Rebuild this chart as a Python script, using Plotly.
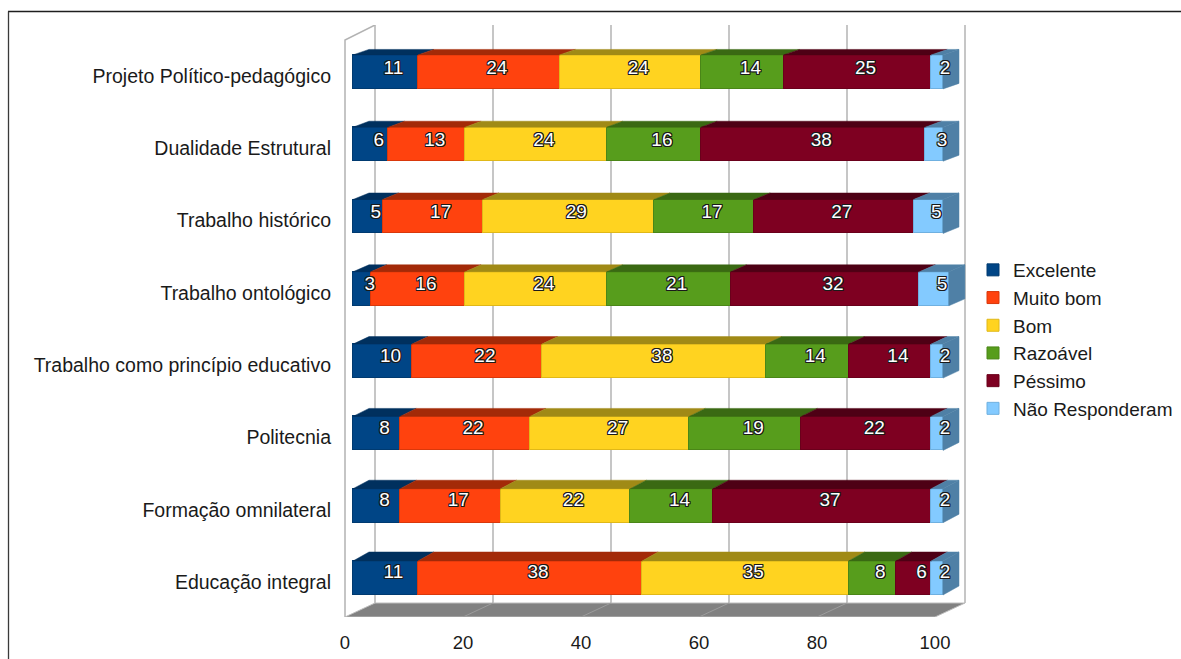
import plotly.graph_objects as go

# Survey results (%), rows listed bottom to top
categories = [
    "Educação integral",
    "Formação omnilateral",
    "Politecnia",
    "Trabalho como princípio educativo",
    "Trabalho ontológico",
    "Trabalho histórico",
    "Dualidade Estrutural",
    "Projeto Político-pedagógico",
]
series_names = ["Excelente", "Muito bom", "Bom", "Razoável", "Péssimo", "Não Responderam"]
excelente = [11, 8, 8, 10, 3, 5, 6, 11]
muito_bom = [38, 17, 22, 22, 16, 17, 13, 24]
bom = [35, 22, 27, 38, 24, 29, 24, 24]
razoavel = [8, 14, 19, 14, 21, 17, 16, 14]
pessimo = [6, 37, 22, 14, 32, 27, 38, 25]
nao_responderam = [2, 2, 2, 2, 5, 5, 3, 2]
x_ticks = [0, 20, 40, 60, 80, 100]

series = [excelente, muito_bom, bom, razoavel, pessimo, nao_responderam]
front_colors = ["#004586", "#ff420e", "#ffd320", "#579d1c", "#7e0021", "#83caff"]
edge_colors = ["#003a70", "#d9380b", "#e0b818", "#4a8617", "#6a001b", "#6fb0e0"]
top_colors = ["#00305e", "#a32a08", "#a08a16", "#3a6913", "#4e0015", "#4f80a6"]

# ---- page geometry (pixels) ----
W, H = 1181, 659
PLOT_L, PLOT_R, PLOT_T, PLOT_B = 340, 970, 25, 617
ZERO_PX = 353          # x pixel of value 0 on the bar front faces
PX_PER_UNIT = 5.9      # horizontal pixels per percentage point
ROW0_PX = 578          # y pixel of the bottom row centre
ROW_PX = 72.3          # vertical pixels per row
BAR_W = 0.47           # bar thickness in row units
DEPTH_DX = 16 / PX_PER_UNIT              # oblique depth, x offset
def depth_dy(i):                         # oblique depth, y offset (row units)
    return (9 - 3.5 * i / 7) / ROW_PX

WALL_DX = 22 / PX_PER_UNIT               # back wall sits behind the bars
FLOOR_FRONT_DX = -8 / PX_PER_UNIT        # floor front edge sits in front
FLOOR_BACK_Y = (ROW0_PX - 603) / ROW_PX
FLOOR_FRONT_Y = (ROW0_PX - 617) / ROW_PX
WALL_TOP_BACK_Y = (ROW0_PX - 25) / ROW_PX
WALL_TOP_FRONT_Y = (ROW0_PX - 40) / ROW_PX

x_range = [(PLOT_L - ZERO_PX) / PX_PER_UNIT, (PLOT_R - ZERO_PX) / PX_PER_UNIT]
y_range = [(ROW0_PX - PLOT_B) / ROW_PX, (ROW0_PX - PLOT_T) / ROW_PX]

FONT = "Liberation Sans, Arial, sans-serif"
TEXT_COLOR = "#1a1a1a"
rows = list(range(len(categories)))

fig = go.Figure()

# front faces
for name, vals, fc, ec in zip(series_names, series, front_colors, edge_colors):
    fig.add_trace(go.Bar(
        y=rows, x=vals, name=name, orientation="h", width=BAR_W,
        marker=dict(color=fc, line=dict(color=ec, width=1)),
        legendgroup=name, hoverinfo="skip",
    ))

# top faces of every segment and the end cap of each row
starts = [[0] * len(rows) for _ in series]
for i in rows:
    acc = 0
    for s, vals in enumerate(series):
        starts[s][i] = acc
        acc += vals[i]

for s, vals in enumerate(series):
    xs, ys = [], []
    for i in rows:
        x0 = starts[s][i]
        x1 = x0 + vals[i]
        yt = i + BAR_W / 2
        dy = depth_dy(i)
        xs += [x0, x1, x1 + DEPTH_DX, x0 + DEPTH_DX, x0, None]
        ys += [yt, yt, yt + dy, yt + dy, yt, None]
    fig.add_trace(go.Scatter(
        x=xs, y=ys, mode="lines", fill="toself", fillcolor=top_colors[s],
        line=dict(color=top_colors[s], width=0.5), showlegend=False, hoverinfo="skip",
    ))

last = len(series) - 1
xs, ys = [], []
for i in rows:
    xe = starts[last][i] + series[last][i]
    yt, yb = i + BAR_W / 2, i - BAR_W / 2
    dy = depth_dy(i)
    xs += [xe, xe + DEPTH_DX, xe + DEPTH_DX, xe, xe, None]
    ys += [yt, yt + dy, yb + dy, yb, yt, None]
fig.add_trace(go.Scatter(
    x=xs, y=ys, mode="lines", fill="toself", fillcolor=top_colors[last],
    line=dict(color=top_colors[last], width=0.5), showlegend=False, hoverinfo="skip",
))

# value labels, centred on each box, white with a dark outline
oc = "#1a1a1a"
outline = ", ".join(f"{a}px {b}px 0 {oc}" for a, b in
                    [(1, 0), (-1, 0), (0, 1), (0, -1), (1, 1), (-1, -1), (1, -1), (-1, 1)])
for s, vals in enumerate(series):
    lx = [starts[s][i] + vals[i] / 2 + DEPTH_DX / 2 for i in rows]
    ly = [i + depth_dy(i) / 2 for i in rows]
    fig.add_trace(go.Scatter(
        x=lx, y=ly, mode="text", text=[str(v) for v in vals],
        textposition="middle center",
        textfont=dict(family=FONT, size=19, color="white", shadow=outline),
        showlegend=False, hoverinfo="skip",
    ))

# ---- chart box: back wall grid, floor, side wall ----
shapes = []
grid_color = "#b3b3b3"
for t in x_ticks:
    shapes.append(dict(type="line", xref="x", yref="y", layer="below",
                       x0=t + WALL_DX, x1=t + WALL_DX,
                       y0=FLOOR_BACK_Y, y1=WALL_TOP_BACK_Y,
                       line=dict(color=grid_color, width=1.5)))
x_lo, x_hi = x_ticks[0], x_ticks[-1]
shapes.append(dict(
    type="path", xref="x", yref="y", layer="below",
    path=(f"M {x_lo + WALL_DX} {FLOOR_BACK_Y} L {x_hi + WALL_DX} {FLOOR_BACK_Y} "
          f"L {x_hi + FLOOR_FRONT_DX} {FLOOR_FRONT_Y} L {x_lo + FLOOR_FRONT_DX} {FLOOR_FRONT_Y} Z"),
    fillcolor="#818181", line=dict(color="#bdbdbd", width=1),
))
for t in x_ticks[1:-1]:
    shapes.append(dict(type="line", xref="x", yref="y", layer="below",
                       x0=t + WALL_DX, y0=FLOOR_BACK_Y,
                       x1=t + FLOOR_FRONT_DX, y1=FLOOR_FRONT_Y,
                       line=dict(color="#9c9c9c", width=1)))
shapes.append(dict(
    type="path", xref="x", yref="y", layer="below",
    path=(f"M {x_lo + FLOOR_FRONT_DX} {FLOOR_FRONT_Y} L {x_lo + FLOOR_FRONT_DX} {WALL_TOP_FRONT_Y} "
          f"L {x_lo + WALL_DX} {WALL_TOP_BACK_Y}"),
    line=dict(color=grid_color, width=1.5),
))

# outer frame lines (top and left)
def px_to_paper_x(px):
    return (px - PLOT_L) / (PLOT_R - PLOT_L)
def px_to_paper_y(py):
    return (PLOT_B - py) / (PLOT_B - PLOT_T)
shapes.append(dict(type="line", xref="paper", yref="paper",
                   x0=px_to_paper_x(8), x1=px_to_paper_x(W + 5),
                   y0=px_to_paper_y(11.5), y1=px_to_paper_y(11.5),
                   line=dict(color="#1e1e1e", width=1.3)))
shapes.append(dict(type="line", xref="paper", yref="paper",
                   x0=px_to_paper_x(8.5), x1=px_to_paper_x(8.5),
                   y0=px_to_paper_y(11.5), y1=px_to_paper_y(H + 5),
                   line=dict(color="#3a3a3a", width=1.3)))

fig.update_layout(
    width=W, height=H,
    margin=dict(l=PLOT_L, r=W - PLOT_R, t=PLOT_T, b=H - PLOT_B, autoexpand=False),
    barmode="stack", bargap=0,
    plot_bgcolor="white", paper_bgcolor="white",
    font=dict(family=FONT, size=18, color=TEXT_COLOR),
    shapes=shapes,
    showlegend=True,
    legend=dict(
        x=px_to_paper_x(973), xanchor="left",
        y=px_to_paper_y(339.5), yanchor="middle",
        traceorder="normal", font=dict(family=FONT, size=19, color=TEXT_COLOR),
        tracegroupgap=1.2, bgcolor="rgba(0,0,0,0)",
    ),
    xaxis=dict(
        range=x_range, showgrid=False, zeroline=False, showline=False,
        tickvals=[t + FLOOR_FRONT_DX for t in x_ticks], ticktext=[str(t) for t in x_ticks],
        ticks="", ticklabelstandoff=12, tickfont=dict(size=18.5),
        fixedrange=True,
    ),
    yaxis=dict(
        range=y_range, showgrid=False, zeroline=False, showline=False,
        tickvals=[i - 4 / ROW_PX for i in rows], ticktext=categories,
        ticks="", ticklabelstandoff=8, tickfont=dict(size=19.5),
        fixedrange=True,
    ),
)

fig.write_html("out.html")
